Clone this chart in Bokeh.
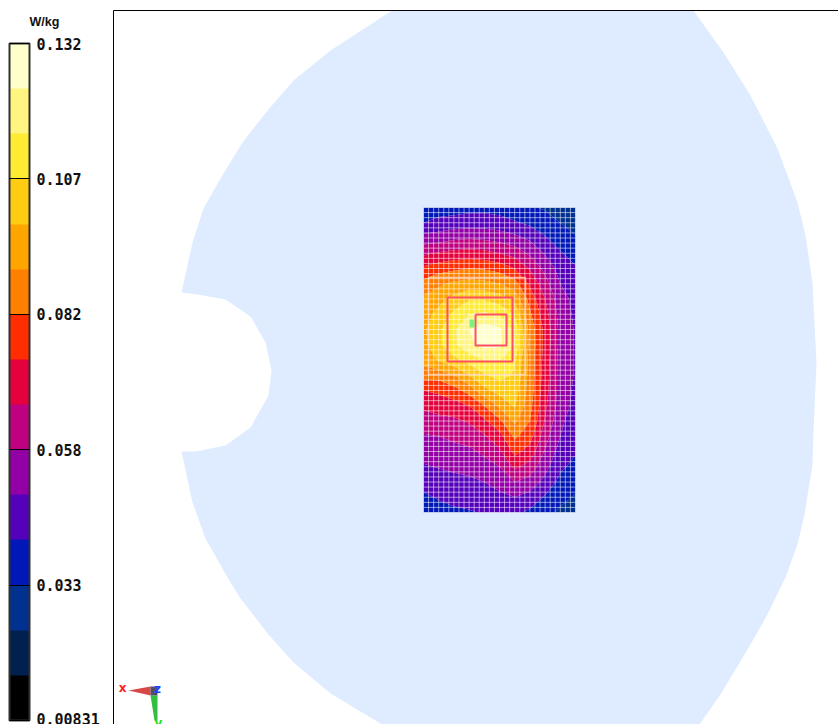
import numpy as np
from bokeh.plotting import figure
from bokeh.models import (ColorBar, LinearColorMapper, FixedTicker, Range1d, Label)
from bokeh.embed import file_html
from bokeh.resources import INLINE

# colour scale
SCALE_LOW = 0.00831
SCALE_HIGH = 0.13206
PALETTE = ["#000000", "#00214F", "#003090", "#0018B8", "#5500BB", "#9300A5", "#BF0080",
           "#E6003C", "#FF2D00", "#FF7F00", "#FFA500", "#FFCC11", "#FFEB33", "#FFF580", "#FFFFCC"]
TICK_VALUES = [0.00831, 0.03306, 0.05781, 0.08256, 0.10731, 0.13206]
TICK_LABELS = ["0.00831", "0.033", "0.058", "0.082", "0.107", "0.132"]
UNIT = "W/kg"

# scanned area, mm
SCAN_X = [-76.0, -60.8, -45.6, -30.4, -15.2, 0.0, 15.2, 30.4, 45.6, 60.8, 76.0]
SCAN_Y = [152.5, 137.25, 122.0, 106.75, 91.5, 76.25, 61.0, 45.75, 30.5, 15.25, 0.0,
          -15.25, -30.5, -45.75, -61.0, -76.25, -91.5, -106.75, -122.0, -137.25, -152.5]

# SAR, as a position on the colour scale (0 = bottom band edge, 15 = top), one list per column
COL_0 = [3.3, 4.0, 5.4, 6.8, 8.2, 9.3, 10.2, 10.6, 10.8, 10.7, 10.4, 9.4, 8.0, 7.2, 6.5, 5.9, 5.4, 4.9, 4.4, 3.8, 3.2]
COL_1 = [3.5, 4.3, 5.5, 7.1, 8.6, 9.8, 10.7, 11.3, 11.8, 11.8, 11.1, 9.4, 8.2, 7.4, 6.7, 6.0, 5.5, 5.05, 4.6, 4.1, 3.6]
COL_2 = [3.6, 4.4, 5.8, 7.3, 8.8, 10.2, 11.3, 12.2, 12.8, 12.8, 11.7, 10.0, 8.6, 7.6, 6.8, 6.2, 5.7, 5.2, 4.7, 4.3, 3.8]
COL_3 = [3.7, 4.5, 5.9, 7.4, 9.0, 10.4, 11.9, 13.0, 14.0, 13.8, 12.4, 11.0, 9.4, 8.0, 7.1, 6.4, 5.8, 5.3, 4.8, 4.4, 3.9]
COL_4 = [3.7, 4.5, 5.8, 7.3, 8.9, 10.3, 11.9, 13.2, 14.5, 14.3, 13.0, 11.9, 10.7, 9.0, 7.8, 6.9, 6.2, 5.6, 5.0, 4.6, 4.1]
COL_5 = [3.6, 4.4, 5.6, 7.0, 8.6, 10.0, 11.5, 12.9, 14.2, 14.2, 13.1, 12.3, 11.4, 10.2, 8.8, 7.6, 6.8, 6.0, 5.3, 4.8, 4.2]
COL_6 = [3.4, 4.1, 5.3, 6.6, 8.0, 9.4, 10.7, 11.9, 12.7, 13.0, 12.1, 11.9, 11.5, 11.1, 10.2, 9.2, 8.3, 7.2, 6.0, 5.0, 4.2]
COL_7 = [3.1, 3.8, 4.8, 5.8, 6.9, 7.8, 8.6, 9.2, 9.6, 9.7, 9.6, 9.6, 9.5, 9.3, 9.0, 8.4, 7.6, 6.6, 5.6, 4.6, 3.8]
COL_8 = [2.9, 3.4, 4.1, 4.9, 5.7, 6.4, 7.0, 7.4, 7.7, 7.7, 7.6, 7.5, 7.4, 7.2, 6.9, 6.4, 5.9, 5.3, 4.7, 3.9, 3.3]
COL_9 = [2.6, 3.0, 3.5, 4.1, 4.6, 5.0, 5.4, 5.6, 5.7, 5.7, 5.6, 5.6, 5.6, 5.5, 5.2, 5.0, 4.6, 4.2, 3.7, 3.3, 2.8]
COL_10 = [2.3, 2.6, 3.1, 3.6, 4.1, 4.5, 4.7, 4.8, 4.9, 4.9, 4.9, 4.9, 4.8, 4.7, 4.5, 4.3, 4.1, 3.7, 3.3, 2.9, 2.5]

# phantom outline, mm
PHANTOM_X = [-318, -307, -296, -279, -257, -232, -206, -169, -109, -102, 194, 224, 251, 278, 298, 306, 313, 317,
             314, 313, 305, 298, 286, 268, 251, 221, 200, -117, -119, -169, -206, -232, -259, -272, -294, -307, -318,
             -304, -274, -249, -231, -228, -234, -249, -274, -302, -318]
PHANTOM_Y = [67.5, 117.5, 151.5, 181.5, 217.5, 249.5, 279.5, 309.5, 348.5, 349.5, 349.5, 307.5, 264.5, 211.5, 157.5,
             124.5, 77.5, -3.5, -71.5, -104.5, -154.5, -184.5, -217.5, -254.5, -284.5, -334.5, -364.5, -364.5,
             -363.5, -333.5, -302.5, -273.5, -238.5, -217.5, -178.5, -142.5, -91.5,
             -91.5, -85.5, -67.5, -35.5, -10.5, 17.5, 43.5, 60.5, 65.5, 67.5]

# view frame (left and top edges are drawn), mm
VIEW_LEFT = -386
VIEW_TOP = 349.5

# measurement squares and markers, mm
GRID_STEP_COUNT_X = 30
GRID_STEP_COUNT_Y = 60
ZOOM_BOX = [-71, 82.5, 26, -14.5]
OUTER_BOX = [-52, 62.5, 13, -1.5]
INNER_BOX = [-24, 45.5, 7, 14.5]
PEAK_BOX = [-30, 40.5, -25, 32.5]
TRIAD_RED_X = [-371, -349, -349]
TRIAD_RED_Y = [-330.5, -326.5, -335.5]
TRIAD_CORNER_X = [-349, -342, -342, -349]
TRIAD_CORNER_Y = [-326.5, -326.5, -335.5, -335.5]
TRIAD_GREEN_X = [-349, -342, -342, -345]
TRIAD_GREEN_Y = [-335.5, -335.5, -360.5, -360.5]
TRIAD_LABEL_X = [-377, -342, -341]
TRIAD_LABEL_Y = [-327.5, -328.5, -362.5]
TRIAD_LABELS = ["x", "z", "y"]
TRIAD_COLORS = ["#FF2020", "#2040FF", "#20E020"]

levels = np.linspace(SCALE_LOW, SCALE_HIGH, len(PALETTE) + 1)
band = (SCALE_HIGH - SCALE_LOW) / len(PALETTE)
z = SCALE_LOW + band * np.array([COL_0, COL_1, COL_2, COL_3, COL_4, COL_5, COL_6, COL_7, COL_8, COL_9, COL_10]).T

p = figure(width=838, height=724, output_backend="svg", toolbar_location=None,
           x_range=Range1d(-499, 339), y_range=Range1d(-364.5, 359.5),
           x_axis_location=None, y_axis_location=None,
           min_border_left=0, min_border_top=0, min_border_right=0, min_border_bottom=0,
           background_fill_color="white", border_fill_color="white",
           outline_line_color=None)
p.grid.visible = False

p.patch(PHANTOM_X, PHANTOM_Y, fill_color="#DFECFF", line_color=None)
p.line([VIEW_LEFT, VIEW_LEFT, 339], [-364.5, VIEW_TOP, VIEW_TOP], line_color="black", line_width=1)

xg, yg = np.array(SCAN_X), np.array(SCAN_Y)
p.contour(xg, yg[::-1], z[::-1], levels=list(levels), fill_color=PALETTE, line_color=None)

gx = np.linspace(xg[0], xg[-1], GRID_STEP_COUNT_X + 1)
gy = np.linspace(yg[-1], yg[0], GRID_STEP_COUNT_Y + 1)
p.segment(gx, yg[-1], gx, yg[0], line_color="white", line_alpha=0.55, line_width=1)
p.segment(xg[0], gy, xg[-1], gy, line_color="white", line_alpha=0.55, line_width=1)

def box(b, color, width, alpha=1.0):
    l, t, r, bt = b
    p.line([l, r, r, l, l], [t, t, bt, bt, t], line_color=color, line_width=width, line_alpha=alpha)

box(ZOOM_BOX, "#FFD8C8", 1.5, 0.8)
box(OUTER_BOX, "#FF5060", 2)
box(INNER_BOX, "#FF5060", 2)
l, t, r, bt = PEAK_BOX
p.quad(left=[l], right=[r], top=[t], bottom=[bt], fill_color="#80F080", line_color=None)

p.patch(TRIAD_RED_X, TRIAD_RED_Y, fill_color="#D84848", line_color=None)
p.patch(TRIAD_GREEN_X, TRIAD_GREEN_Y, fill_color="#30C040", line_color=None)
p.patch(TRIAD_CORNER_X, TRIAD_CORNER_Y, fill_color="#505060", line_color=None)
for lx, ly, s, c in zip(TRIAD_LABEL_X, TRIAD_LABEL_Y, TRIAD_LABELS, TRIAD_COLORS):
    p.add_layout(Label(x=lx, y=ly, text=s, text_color=c, text_font="DejaVu Sans", text_font_size="12px",
                       text_font_style="bold", text_align="center", text_baseline="middle"))

mapper = LinearColorMapper(palette=PALETTE, low=SCALE_LOW, high=SCALE_HIGH)
cb = ColorBar(color_mapper=mapper, width=20, height=677, location=(9, 4), padding=0,
              ticker=FixedTicker(ticks=TICK_VALUES),
              major_label_overrides=dict(zip(TICK_VALUES, TICK_LABELS)),
              major_label_text_font="DejaVu Sans Mono", major_label_text_font_size="15px",
              major_label_text_font_style="bold", major_label_text_color="#111111",
              major_tick_in=20, major_tick_out=0, major_tick_line_color="black", major_tick_line_width=1,
              minor_tick_line_color=None, label_standoff=7,
              bar_line_color="#303030", bar_line_width=2,
              background_fill_alpha=0, border_line_color=None)
p.add_layout(cb, "center")
p.add_layout(Label(x=-455, y=331.5, text=UNIT, text_font="Liberation Sans",
                   text_font_size="12.5px", text_font_style="bold", text_color="#111111",
                   text_baseline="bottom", text_align="center"))

open("out.html", "w").write(file_html(p, INLINE))
